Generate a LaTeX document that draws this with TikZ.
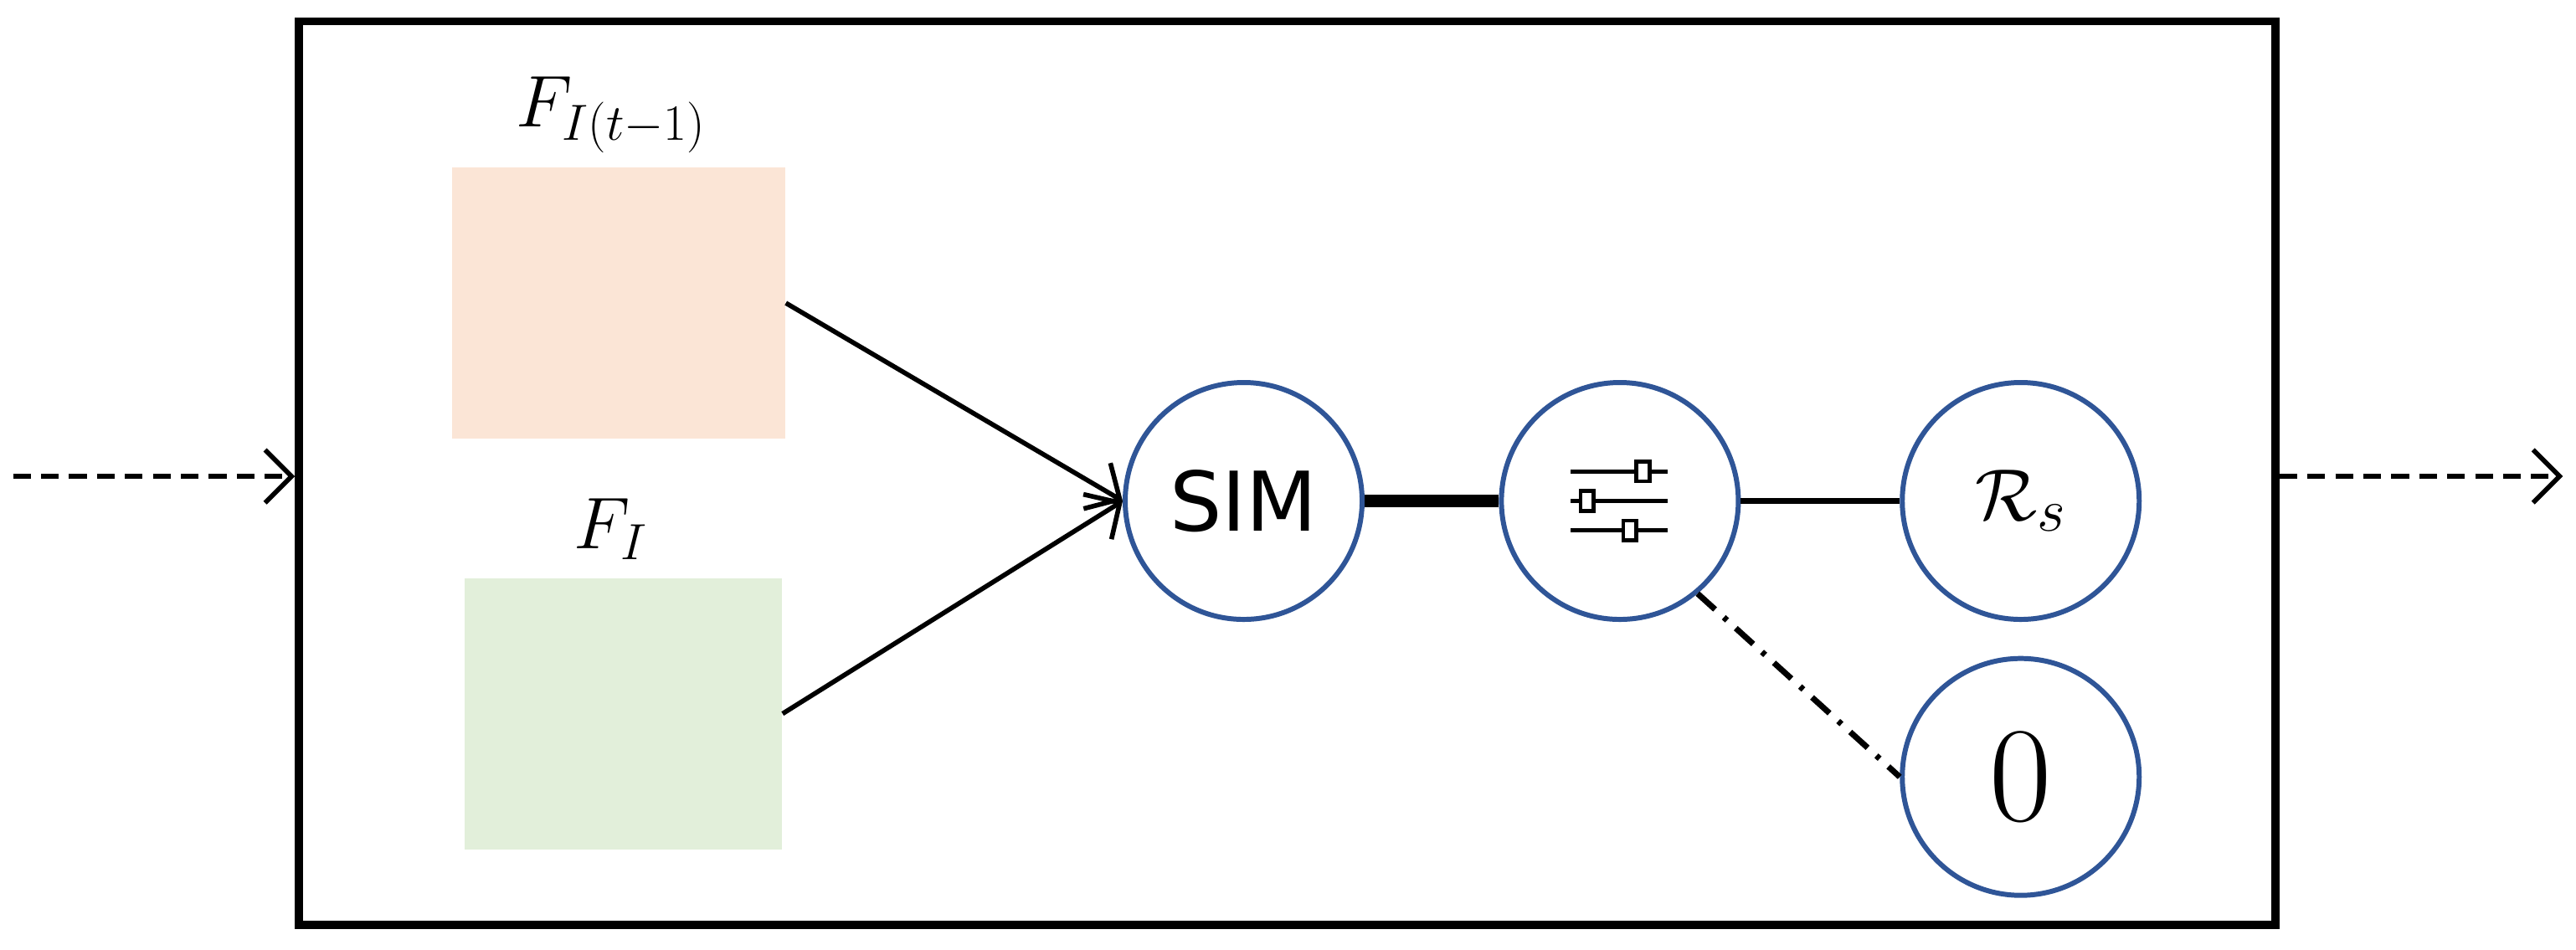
\documentclass[tikz,border=0pt]{standalone}
\usepackage{fontspec}
\usepackage{amsmath}
\newfontfamily\simfont{DejaVu Sans}
\usetikzlibrary{arrows.meta}
\definecolor{cblue}{HTML}{2F5597}
\definecolor{corange}{HTML}{FBE5D6}
\definecolor{cgreen}{HTML}{E2EFDA}
\begin{document}
\begin{tikzpicture}[x=0.019624cm,y=-0.019624cm,
  circ/.style={circle,draw=cblue,line width=1.7pt,minimum size=2.83cm,inner sep=0pt,fill=white},
  arr/.style={line width=1.6pt,-{Straight Barb[length=9pt,width=18pt,line width=1.6pt]}},
  dasharr/.style={line width=1.6pt,dash pattern=on 6pt off 3.5pt,-{Straight Barb[length=9pt,width=18pt,line width=1.6pt]}},
  lbl/.style={font=\fontsize{25}{30}\selectfont}]
\useasboundingbox (0,0) rectangle (1568,578);
\node[draw,line width=2.8pt,minimum width=1203*0.019624cm,minimum height=550*0.019624cm,inner sep=0pt] (box) at (783.5,288) {};
\node[fill=corange,minimum width=203*0.019624cm,minimum height=165*0.019624cm,inner sep=0pt] (fo) at (376.5,184.5) {};
\node[fill=cgreen,minimum width=193*0.019624cm,minimum height=165*0.019624cm,inner sep=0pt] (fg) at (379.5,434.5) {};
\node[lbl] (lo) at (372,70) {$F_{I(t-1)}$};
\node[lbl] (lg) at (372,322) {$F_I$};
\node[circ,font=\simfont\fontsize{28}{32}\selectfont] (sim) at (757,305) {SIM};
\node[circ] (sl) at (986,305) {};
\node[circ,font=\fontsize{30}{34}\selectfont] (rs) at (1230,305) {$\mathcal{R}_s$};
\node[circ,font=\fontsize{46}{50}\selectfont] (zero) at (1230,473) {0};
\coordinate (in1) at (8,290);
\coordinate (out2) at (1560,290);
\draw[dasharr] (in1) -- (box.west |- in1);
\draw[dasharr] (box.east |- out2) -- (out2);
\draw[arr] (fo.east) ++(0,0) coordinate (a1) -- (sim.west);
\draw[arr] (fg.east) coordinate (a2) -- (sim.west);
\draw[line width=4.5pt] (sim.east) -- (sl.west);
\draw[line width=2.2pt] (sl.east) -- (rs.west);
\draw[line width=2pt,dash pattern=on 8pt off 4pt on 1.5pt off 4pt] (sl.-50) -- (zero.west);
% slider icon
\foreach \yy/\kx in {287/1000,305/966,323/992}{
  \draw[line width=1.5pt] (956,\yy) -- (1015,\yy);
  \draw[line width=1.3pt,fill=white] (\kx-4,\yy-6) rectangle (\kx+4,\yy+6);
}
\end{tikzpicture}
\end{document}
